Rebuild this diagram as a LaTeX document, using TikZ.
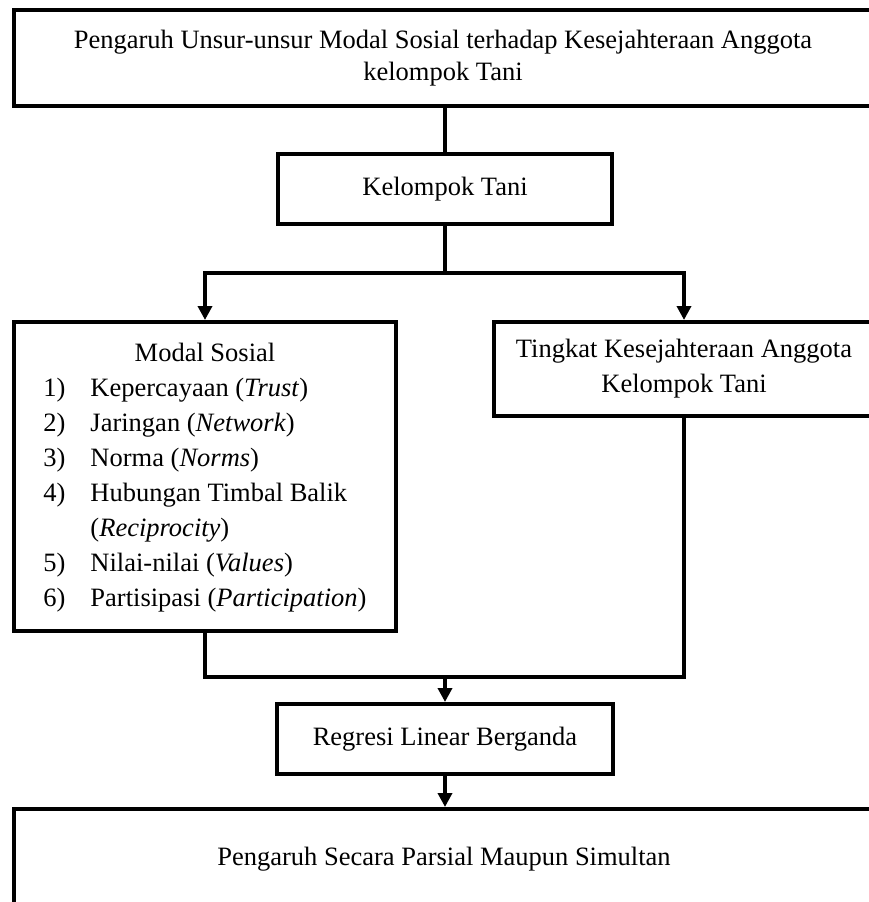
\documentclass[tikz,border=0pt]{standalone}
\usepackage{fontspec}
\setmainfont{Liberation Serif}
\usetikzlibrary{arrows.meta,positioning}
\newcommand{\flowfont}{\fontsize{26.5}{35}\selectfont}
\tikzset{
  >={Triangle[length=14pt,width=14pt]},
  stagebox/.style={draw,line width=4pt,inner sep=0pt,align=center},
  link/.style={line width=4pt},
  flow/.style={->,line width=4pt},
}

\begin{document}
\begin{tikzpicture}[x=1pt,y=-1pt,every node/.style={font=\flowfont}]
  \useasboundingbox (0,0) rectangle (869,902);
  % stages
  \node[stagebox,minimum width=858pt,minimum height=96pt] (judul) at (443,58)
    {Pengaruh Unsur-unsur Modal Sosial terhadap Kesejahteraan Anggota\\[-3pt]
     kelompok Tani};
  \node[stagebox,minimum width=334pt,minimum height=70pt] (kelompok) at (445,189)
    {Kelompok Tani};
  \node[stagebox,minimum width=382pt,minimum height=309pt] (modal) at (205,476.5)
    {\begin{tabular}{@{}p{47pt}@{}l@{}}
       \multicolumn{2}{c}{Modal Sosial}\\
       1) & Kepercayaan (\textit{Trust})\\
       2) & Jaringan (\textit{Network})\\
       3) & Norma (\textit{Norms})\\
       4) & Hubungan Timbal Balik\\
          & (\textit{Reciprocity})\\
       5) & Nilai-nilai (\textit{Values})\\
       6) & Partisipasi (\textit{Participation})
     \end{tabular}};
  \node[stagebox,minimum width=380pt,minimum height=94pt] (tingkat) at (684,369)
    {Tingkat Kesejahteraan Anggota\\ Kelompok Tani};
  \node[stagebox,minimum width=336pt,minimum height=70pt] (regresi) at (445,739)
    {Regresi Linear Berganda};
  \node[stagebox,anchor=north,minimum width=860pt,text height=56pt,
    text depth=60pt] (hasil) at (444,807)
    {Pengaruh Secara Parsial Maupun Simultan};
  % connectors
  \coordinate (cabang) at (445,273);
  \coordinate (gabung) at (445,677);
  \draw[link] (judul.south -| kelompok.north) -- (kelompok.north);
  \draw[link] (kelompok.south) -- (cabang);
  \draw[flow] (cabang) -| (modal.north);
  \draw[flow] (cabang) -| (tingkat.north);
  \draw[link] (modal.south) |- (gabung) -| (tingkat.south);
  \draw[flow] (gabung) -- (regresi.north);
  \draw[flow] (regresi.south) -- (regresi.south |- hasil.north);
\end{tikzpicture}
\end{document}
